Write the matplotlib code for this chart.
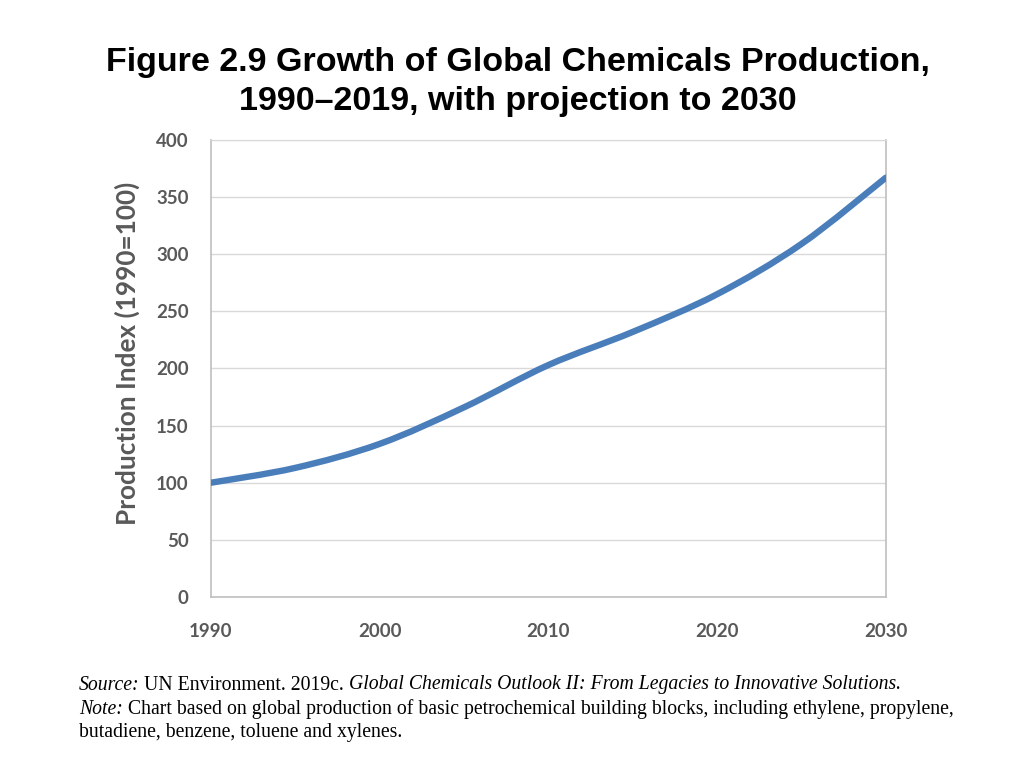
import matplotlib
matplotlib.use("Agg")
import matplotlib.pyplot as plt
from matplotlib.path import Path
from matplotlib.patches import PathPatch

years = [1990, 1995, 2000, 2005, 2010, 2015, 2020, 2025, 2030]
index_vals = [100, 113, 134, 166, 203, 232, 265, 309, 367]
xticks = [1990, 2000, 2010, 2020, 2030]
yticks = [0, 50, 100, 150, 200, 250, 300, 350, 400]

title = "Figure 2.9 Growth of Global Chemicals Production,\n1990\u20132019, with projection to 2030"
ylabel = "Production Index (1990=100)"

fig = plt.figure(figsize=(10.24, 7.68), dpi=100)
ax = fig.add_axes([0.206, 0.2227, 0.659, 0.595])

# smoothed line (like Excel "smoothed line"), bezier segments through the data points
pts = list(zip(years, index_vals))
verts = [pts[0]]
codes = [Path.MOVETO]
n = len(pts)
for i in range(n - 1):
    p0 = pts[max(i - 1, 0)]
    p1 = pts[i]
    p2 = pts[i + 1]
    p3 = pts[min(i + 2, n - 1)]
    c1 = (p1[0] + (p2[0] - p0[0]) / 6, p1[1] + (p2[1] - p0[1]) / 6)
    c2 = (p2[0] - (p3[0] - p1[0]) / 6, p2[1] - (p3[1] - p1[1]) / 6)
    verts += [c1, c2, p2]
    codes += [Path.CURVE4] * 3
line = PathPatch(Path(verts, codes), facecolor='none', edgecolor='#4a7ebb',
                 linewidth=4.6, capstyle='round', joinstyle='round', zorder=3)
ax.add_patch(line)

ax.set_xlim(1990, 2030)
ax.set_ylim(0, 400)
ax.set_xticks(xticks)
ax.set_yticks(yticks)
ax.set_xticklabels([str(t) for t in xticks], fontfamily='Lato', fontweight='bold',
                   fontsize=13.5, color='#595959')
ax.set_yticklabels([str(t) for t in yticks], fontfamily='Lato', fontweight='bold',
                   fontsize=13.5, color='#595959')
ax.tick_params(length=0)
ax.tick_params(axis='x', pad=19)
ax.tick_params(axis='y', pad=16)

ax.grid(True, axis='y', color='#d9d9d9', linewidth=1)
ax.set_axisbelow(True)
for s in ['left', 'bottom', 'right']:
    ax.spines[s].set_color('#bfbfbf')
    ax.spines[s].set_linewidth(1.2)
ax.spines['top'].set_color('#d9d9d9')

fig.text(0.124, 0.540, ylabel, rotation=90, ha='center', va='center',
         fontfamily='Lato', fontweight='bold', fontsize=18.8, color='#595959')

fig.text(0.506, 0.893, title, ha='center', va='center', fontfamily='Liberation Sans',
         fontweight='bold', fontsize=24.5, linespacing=1.32)

# footnote with italic bits
fy = [1 - 685 / 768, 1 - 709 / 768, 1 - 733 / 768]
fx = 0.077
serif = 'Liberation Serif'
fs = 14.2

def run(parts, y):
    x = fx
    r = fig.canvas.get_renderer()
    for txt, style in parts:
        t = fig.text(x, y, txt, fontfamily=serif, fontstyle=style, fontsize=fs,
                     ha='left', va='center')
        bb = t.get_window_extent(renderer=r)
        x += bb.width / fig.bbox.width

run([("Source:", 'italic'), (" UN Environment. 2019c. ", 'normal'),
     ("Global Chemicals Outlook II: From Legacies to Innovative Solutions.", 'italic')], fy[0])
run([("Note:", 'italic'),
     (" Chart based on global production of basic petrochemical building blocks, including ethylene, propylene,", 'normal')], fy[1])
run([("butadiene, benzene, toluene and xylenes.", 'normal')], fy[2])

fig.savefig("out.png", dpi=100)
